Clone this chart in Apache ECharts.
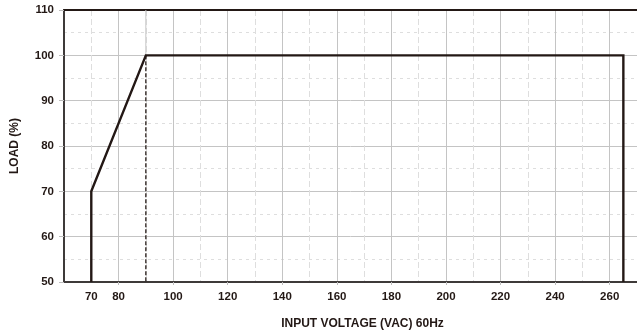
<!DOCTYPE html>
<html>
<head>
<meta charset="utf-8">
<script src="https://cdn.jsdelivr.net/npm/echarts@6/dist/echarts.min.js"></script>
<style>html,body{margin:0;padding:0;background:#fff}#c{width:637px;height:335px}</style>
</head>
<body>
<div id="c"></div>
<script>
// Data
const xLabelValues = [70, 80, 100, 120, 140, 160, 180, 200, 220, 240, 260];
const xTickValues = [80, 100, 120, 140, 160, 180, 200, 220, 240, 260];
const deratingCurve = [[70, 50], [70, 70], [90, 100], [265, 100], [265, 50]];
const dashedMarker = [[90, 100], [90, 50]];
const gridAt90 = [[90, 100], [90, 110]];
const xName = 'INPUT VOLTAGE (VAC) 60Hz';
const yName = 'LOAD (%)';

const dark = '#231815';
const axisDark = '#3e3a39';
const font = 'Liberation Sans, Arial, sans-serif';

const chart = echarts.init(document.getElementById('c'), null, {renderer: 'canvas'});
chart.setOption({
  animation: false,
  backgroundColor: '#fff',
  grid: {left: 64, right: 0, top: 10, bottom: 53, containLabel: false},
  xAxis: [{
    type: 'value', min: 60, max: 270, interval: 10,
    position: 'bottom',
    name: xName, nameLocation: 'middle', nameGap: 36,
    nameTextStyle: {fontFamily: font, fontWeight: 'bold', fontSize: 12, color: dark, padding: [0, 0, 0, 24]},
    axisLine: {show: true, lineStyle: {color: axisDark, width: 2}},
    axisTick: {show: true, length: 3, inside: false, customValues: xTickValues, lineStyle: {color: '#bdbdbd', width: 1}},
    axisLabel: {customValues: xLabelValues, margin: 9, fontFamily: font, fontWeight: 'bold', fontSize: 11.5, color: dark},
    splitLine: {show: false}
  }, {
    type: 'value', min: 60, max: 270, interval: 20,
    position: 'top',
    axisLine: {show: true, onZero: false, lineStyle: {color: dark, width: 2}},
    axisTick: {show: false},
    axisLabel: {show: false},
    splitLine: {show: true, lineStyle: {color: '#c4c4c4', width: 1}},
    minorTick: {show: false, splitNumber: 2},
    minorSplitLine: {show: true, lineStyle: {color: '#dedede', width: 1, type: [6, 3]}}
  }],
  yAxis: [{
    type: 'value', min: 50, max: 110, interval: 10,
    name: yName, nameLocation: 'middle', nameGap: 43,
    nameTextStyle: {fontFamily: font, fontWeight: 'bold', fontSize: 12, color: dark},
    axisLine: {show: true, onZero: false, lineStyle: {color: axisDark, width: 2}},
    axisTick: {show: true, length: 5, lineStyle: {color: '#bdbdbd', width: 1}},
    axisLabel: {margin: 10, fontFamily: font, fontWeight: 'bold', fontSize: 11.5, color: dark},
    splitLine: {show: true, lineStyle: {color: '#c4c4c4', width: 1}},
    minorTick: {show: false, splitNumber: 2},
    minorSplitLine: {show: true, lineStyle: {color: '#dedede', width: 1, type: [3, 4]}}
  }],
  series: [{
    type: 'line', data: gridAt90, xAxisIndex: 0, symbol: 'none', z: 1,
    lineStyle: {color: '#c4c4c4', width: 1}
  }, {
    type: 'line', data: dashedMarker, xAxisIndex: 0, symbol: 'none', z: 3,
    lineStyle: {color: dark, width: 1.3, type: [4, 2]}
  }, {
    type: 'line', data: deratingCurve, xAxisIndex: 0, symbol: 'none', z: 4,
    lineStyle: {color: dark, width: 2.4, join: 'miter'}
  }]
});
</script>
</body>
</html>
